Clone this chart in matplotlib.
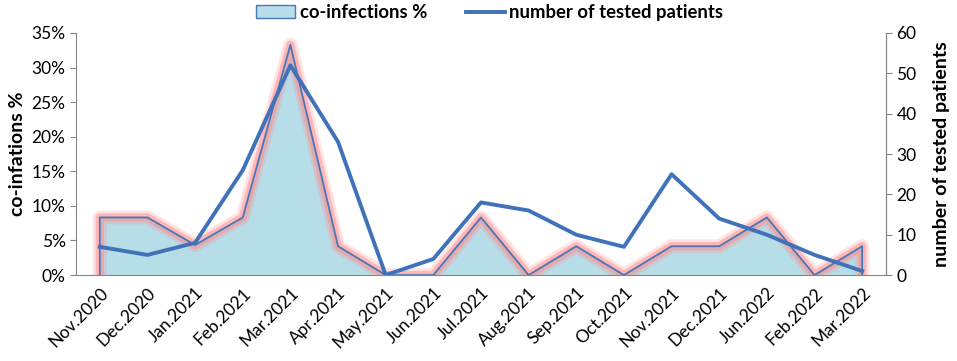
import matplotlib.pyplot as plt
import matplotlib.patheffects as pe
from matplotlib.lines import Line2D
from matplotlib.patches import Patch
from matplotlib.ticker import FuncFormatter

plt.rcParams['font.family'] = ['Lato', 'DejaVu Sans']

# data
months = ['Nov.2020', 'Dec.2020', 'Jan.2021', 'Feb.2021', 'Mar.2021', 'Apr.2021',
          'May.2021', 'Jun.2021', 'Jul.2021', 'Aug.2021', 'Sep.2021', 'Oct.2021',
          'Nov.2021', 'Dec.2021', 'Jun.2022', 'Feb.2022', 'Mar.2022']
coinf_pct = [8.33, 8.33, 4.35, 8.33, 33.3, 4.17, 0, 0, 8.33, 0, 4.17, 0,
             4.17, 4.17, 8.33, 0, 4.17]
tested = [7, 5, 8, 26, 52, 33, 0, 4, 18, 16, 10, 7, 25, 14, 10, 5, 1]

fill_col = '#b7dde8'
edge_col = '#4577b9'
line_col = '#3f72b8'
grey = '#868686'

fig = plt.figure(figsize=(9.57, 3.61), dpi=100)
ax = fig.add_axes([0.0794, 0.238, 0.8464, 0.6706])
x = list(range(len(months)))

ax.fill_between(x, coinf_pct, 0, color=fill_col, linewidth=0, zorder=1)
ax.plot([x[0]] + x + [x[-1]], [0] + coinf_pct + [0], color=edge_col, lw=1.3, zorder=2,
        path_effects=[pe.Stroke(linewidth=10, foreground='#ff8c8c', alpha=0.25),
                      pe.Stroke(linewidth=6, foreground='#ff8c8c', alpha=0.5),
                      pe.Normal()])

ax.set_xlim(-0.5, len(months) - 0.5)
ax.set_ylim(0, 35)
ax.set_yticks(range(0, 36, 5))
ax.yaxis.set_major_formatter(FuncFormatter(lambda v, p: f'{int(v)}%'))
ax.set_xticks(x)
ax.set_xticklabels(months, rotation=45, ha='right', rotation_mode='anchor', fontsize=12.5)
ax.tick_params(axis='y', labelsize=12.5, length=4, color=grey)
ax.tick_params(axis='x', length=0, pad=7)
ax.set_ylabel('co-infations %', fontsize=14, fontweight='bold', labelpad=4)

ax2 = ax.twinx()
ax2.plot(x, tested, color=line_col, lw=2.8, zorder=3)
ax2.set_ylim(0, 60)
ax2.set_yticks(range(0, 61, 10))
ax2.tick_params(axis='y', labelsize=12.5, length=4, color=grey)
ax2.set_ylabel('number of tested patients', fontsize=14, fontweight='bold', labelpad=12)

for a in (ax, ax2):
    a.spines['top'].set_visible(False)
    for s in ('left', 'right', 'bottom'):
        a.spines[s].set_color(grey)
ax2.spines['left'].set_visible(False)
ax2.spines['bottom'].set_visible(False)

handles = [Patch(facecolor=fill_col, edgecolor=edge_col, lw=1),
           Line2D([0], [0], color=line_col, lw=2.8)]
fig.legend(handles, ['co-infections %', 'number of tested patients'], loc='upper center',
           bbox_to_anchor=(0.512, 1.035), ncol=2, frameon=False, handlelength=2.1,
           columnspacing=2.1, handletextpad=0.25, prop={'weight': 'bold', 'size': 13.3})

fig.savefig('out.png', dpi=100)
